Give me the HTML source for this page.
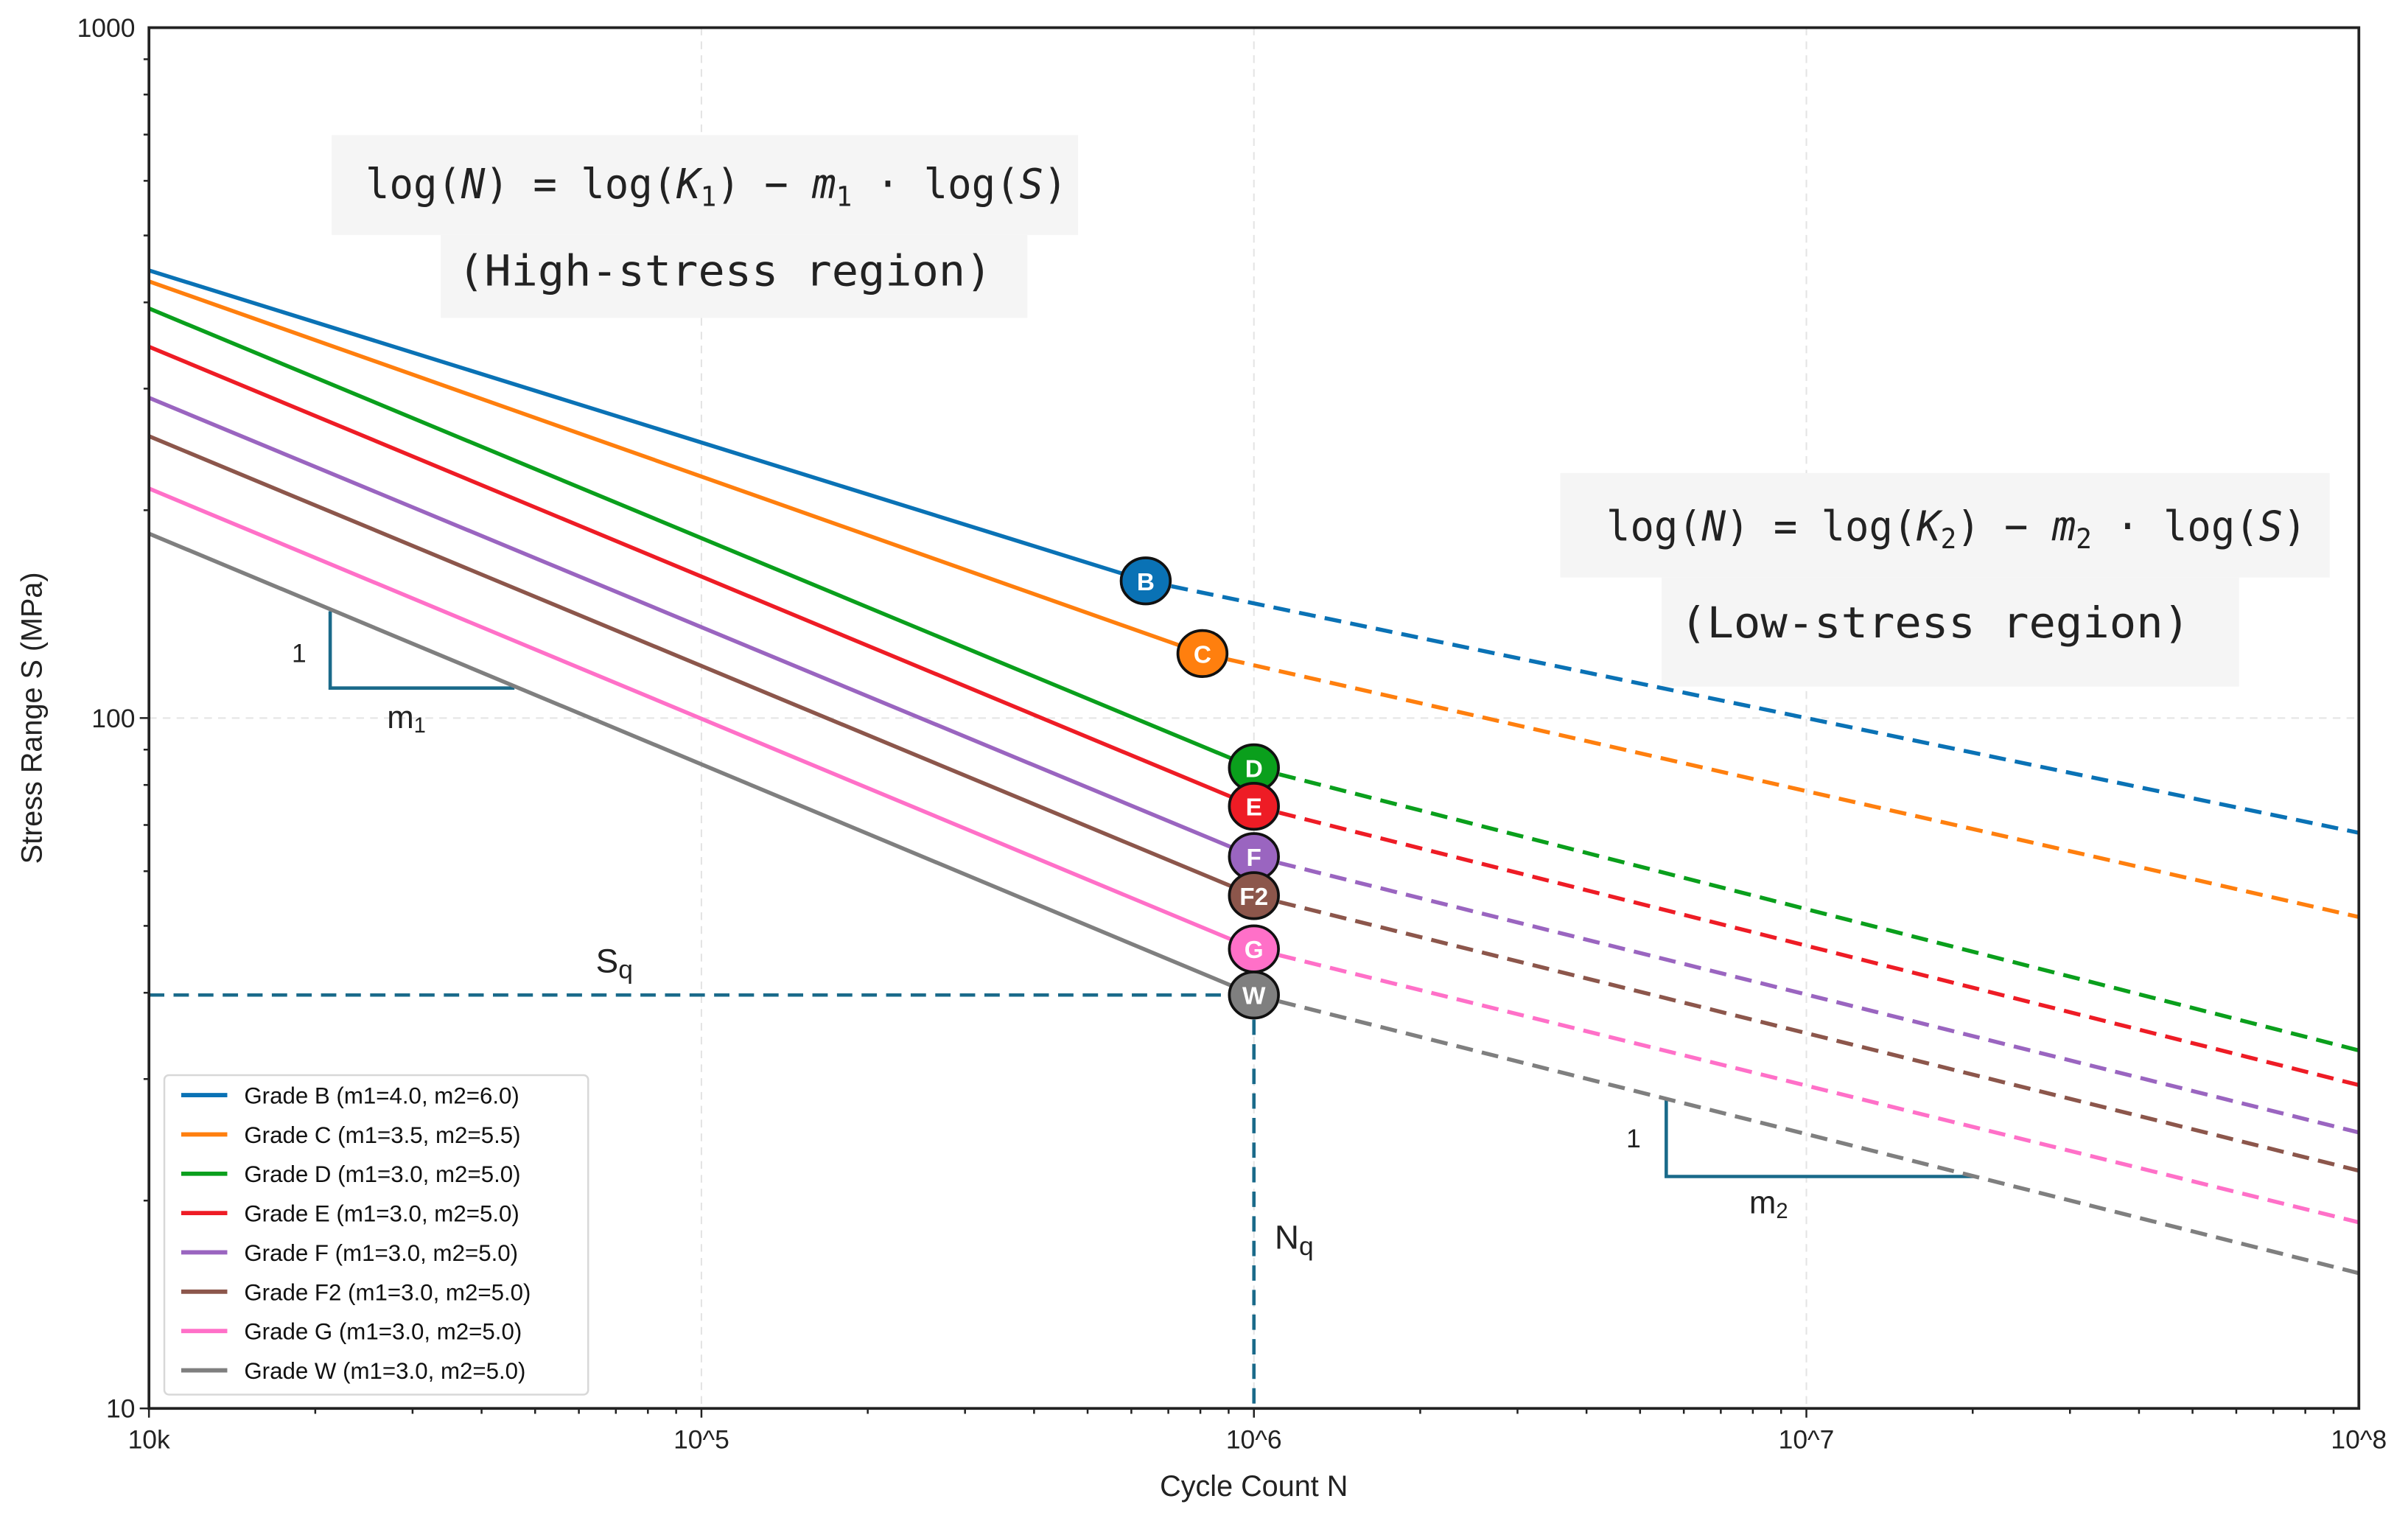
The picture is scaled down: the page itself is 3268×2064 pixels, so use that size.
<!DOCTYPE html>
<html><head><meta charset="utf-8">
<style>
html,body{margin:0;padding:0;background:#fff;}
svg{display:block;font-family:"Liberation Sans","DejaVu Sans",sans-serif;}
.mono{font-family:"DejaVu Sans Mono","Liberation Mono",monospace;}
</style></head>
<body>
<svg id="chart" width="3268" height="2064" viewBox="0 0 1568 990.3" preserveAspectRatio="none" xmlns="http://www.w3.org/2000/svg">
<rect x="0" y="0" width="1568" height="990.3" fill="#fff"/>
<g id="grid"></g>
<g id="annot">
  <rect x="216" y="88" width="486" height="65" fill="#f5f5f5"/>
  <rect x="287" y="153" width="382" height="54" fill="#f5f5f5"/>
  <text class="mono" x="238" y="129" font-size="27" fill="#222" textLength="457" lengthAdjust="spacingAndGlyphs">log(<tspan font-style="italic">N</tspan>) = log(<tspan font-style="italic">K</tspan><tspan font-size="18" dy="5">1</tspan><tspan dy="-5">) − </tspan><tspan font-style="italic">m</tspan><tspan font-size="18" dy="5">1</tspan><tspan dy="-5"> · log(</tspan><tspan font-style="italic">S</tspan>)</text>
  <text class="mono" x="298" y="186" font-size="28" fill="#222" textLength="348" lengthAdjust="spacingAndGlyphs">(High-stress region)</text>
  <rect x="1016" y="308" width="501" height="68" fill="#f5f5f5"/>
  <rect x="1082" y="376" width="376" height="71" fill="#f5f5f5"/>
  <text class="mono" x="1046" y="352" font-size="27" fill="#222" textLength="456" lengthAdjust="spacingAndGlyphs">log(<tspan font-style="italic">N</tspan>) = log(<tspan font-style="italic">K</tspan><tspan font-size="18" dy="5">2</tspan><tspan dy="-5">) − </tspan><tspan font-style="italic">m</tspan><tspan font-size="18" dy="5">2</tspan><tspan dy="-5"> · log(</tspan><tspan font-style="italic">S</tspan>)</text>
  <text class="mono" x="1094" y="415" font-size="28" fill="#222" textLength="332" lengthAdjust="spacingAndGlyphs">(Low-stress region)</text>
  <polyline points="215,398 215,448 335,448" fill="none" stroke="#1a6a8a" stroke-width="2.2"/>
  <text x="190" y="431" font-size="17" fill="#222">1</text>
  <text x="252" y="474" font-size="21" fill="#222">m<tspan font-size="14" dy="3">1</tspan></text>
  <polyline points="1085,715 1085,766 1285,766" fill="none" stroke="#1a6a8a" stroke-width="2.2"/>
  <text x="1059" y="747" font-size="17" fill="#222">1</text>
  <text x="1139" y="790" font-size="21" fill="#222">m<tspan font-size="14" dy="3">2</tspan></text>
  <text x="388" y="633" font-size="22" fill="#222">S<tspan font-size="17" dy="4">q</tspan></text>
  <text x="830" y="813" font-size="22" fill="#222">N<tspan font-size="17" dy="4">q</tspan></text>
</g>
<g id="series"></g>
<g id="axes"></g>
<g id="legend"></g>
</svg>
<script>
// ---- data ----
const grades = ["B","C","D","E","F","F2","G","W"];
const m1Values = [4.0,3.5,3.0,3.0,3.0,3.0,3.0,3.0];
const m2Values = [6.0,5.5,5.0,5.0,5.0,5.0,5.0,5.0];
const startS = [445,429,392,345,291,256,215,185];      // S at N=1e4
const kneeN = [6.37e5,8.07e5,1e6,1e6,1e6,1e6,1e6,1e6];
const kneeS = [158,124,84.7,74.5,63.0,55.3,46.3,39.7];
const endS = [68.2,51.5,33.0,29.4,25.1,22.1,18.6,15.7]; // S at N=1e8
const colors = ["#0a72b5","#ff7f0e","#0a9f1c","#ee1c25","#9a65c0","#8c564b","#ff70c8","#7f7f7f"];
const xTickVals = [1e4,1e5,1e6,1e7,1e8];
const xTickLabels = ["10k","10^5","10^6","10^7","10^8"];
const yTickVals = [10,100,1000];
const yTickLabels = ["10","100","1000"];
const qN = 1e6, qS = 39.7;

// ---- axes ----
const L=97, R=1536, T=18, B=917;
const xs = n => L + (Math.log10(n)-4)/4*(R-L);
const ys = s => B - (Math.log10(s)-1)/2*(B-T);
const NS="http://www.w3.org/2000/svg";
function mk(tag, attrs, parent){const e=document.createElementNS(NS,tag);for(const k in attrs)e.setAttribute(k,attrs[k]);parent.appendChild(e);return e;}
const grid=document.getElementById('grid'), axes=document.getElementById('axes'), ser=document.getElementById('series'), leg=document.getElementById('legend');

xTickVals.slice(1,-1).forEach(v=>{
  const g=mk('line',{x1:xs(v),x2:xs(v),y1:T,y2:B,stroke:"#e4e4e4","stroke-width":1,"stroke-dasharray":"5,4"},grid);
  
  
});
{const g=mk('line',{x1:L,x2:R,y1:ys(100),y2:ys(100),stroke:"#e4e4e4","stroke-width":1,"stroke-dasharray":"5,4"},grid);

}

// Sq / Nq guide
{const h=mk('line',{x1:L,x2:xs(qN),y1:ys(qS),y2:ys(qS),stroke:"#1a6a8a","stroke-width":2.2,"stroke-dasharray":"10,6"},document.getElementById('annot'));


const v=mk('line',{x1:xs(qN),x2:xs(qN),y1:ys(qS),y2:B,stroke:"#1a6a8a","stroke-width":2.2,"stroke-dasharray":"10,6"},document.getElementById('annot'));

}

// series
grades.forEach((g,i)=>{
  const a=mk('polyline',{points:`${xs(1e4)},${ys(startS[i])} ${xs(kneeN[i])},${ys(kneeS[i])}`,fill:"none",stroke:colors[i],"stroke-width":2.6},ser);
  
  
  const b=mk('polyline',{points:`${xs(kneeN[i])},${ys(kneeS[i])} ${xs(1e8)},${ys(endS[i])}`,fill:"none",stroke:colors[i],"stroke-width":2.6,"stroke-dasharray":"11,6"},ser);
  
  
});
grades.forEach((g,i)=>{
  const c=mk('ellipse',{cx:xs(kneeN[i]),cy:ys(kneeS[i]),rx:16,ry:15,fill:colors[i],stroke:"#111","stroke-width":1.8},ser);
  
  
  const t=mk('text',{x:xs(kneeN[i]),y:ys(kneeS[i])+6,"text-anchor":"middle","font-size":16,"font-weight":"bold",fill:"#fff"},ser);
  t.textContent=g;
  
  
});

// frame
{const f=mk('rect',{x:L,y:T,width:R-L,height:B-T,fill:"none",stroke:"#222","stroke-width":1.8},axes);

}
// ticks
for(let d=4; d<8; d++){ for(let k=1;k<10;k++){ const v=k*Math.pow(10,d); const len=k===1?6:3.5;
  const t=mk('line',{x1:xs(v),x2:xs(v),y1:B,y2:B+len,stroke:"#222","stroke-width":1.2},axes);
  
  }}
for(let d=1; d<3; d++){ for(let k=1;k<10;k++){ const v=k*Math.pow(10,d); const len=k===1?6:3.5;
  const t=mk('line',{x1:L-len,x2:L,y1:ys(v),y2:ys(v),stroke:"#222","stroke-width":1.2},axes);
  
  }}
xTickVals.forEach((v,i)=>{
  const t=mk('text',{x:xs(v),y:B+26,"text-anchor":"middle","font-size":17,fill:"#222"},axes);
  t.textContent=xTickLabels[i];
  
  
});
yTickVals.forEach((v,i)=>{
  const t=mk('text',{x:L-9,y:ys(v)+6,"text-anchor":"end","font-size":17,fill:"#222"},axes);
  t.textContent=yTickLabels[i];
  
  
});
{const t=mk('text',{x:(L+R)/2,y:974,"text-anchor":"middle","font-size":19,fill:"#222"},axes);
t.textContent="Cycle Count N";


const y=mk('text',{x:0,y:0,"text-anchor":"middle","font-size":19,fill:"#222",transform:`translate(27,${(T+B)/2}) rotate(-90)`},axes);
y.textContent="Stress Range S (MPa)";

}

// legend
{const box=mk('rect',{x:107,y:700,width:276,height:208,rx:3,fill:"#fff",stroke:"#d8d8d8","stroke-width":1.2,"fill-opacity":0.9},leg);

}
grades.forEach((g,i)=>{
  const yy=713+i*25.6;
  const l=mk('line',{x1:118,x2:148,y1:yy,y2:yy,stroke:colors[i],"stroke-width":2.8},leg);
  
  
  const t=mk('text',{x:159,y:yy+5.5,"font-size":15,fill:"#111"},leg);
  t.textContent=`Grade ${g} (m1=${m1Values[i].toFixed(1)}, m2=${m2Values[i].toFixed(1)})`;
  
  
});
</script>
</body></html>
